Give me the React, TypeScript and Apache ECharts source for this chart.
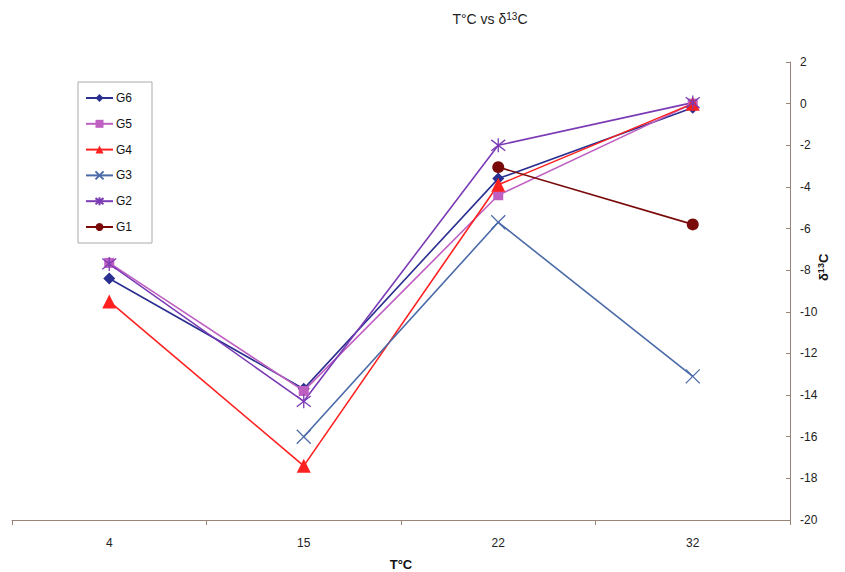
import React, { useEffect, useRef } from "react";
import * as echarts from "echarts";

const categories = ["4", "15", "22", "32"];
const g6 = [-8.4, -13.7, -3.6, -0.2];
const g5 = [-7.65, -13.8, -4.4, 0];
const g4 = [-9.5, -17.4, -3.9, 0];
const g3 = [null, -16.0, -5.7, -13.1];
const g2 = [-7.7, -14.3, -2.0, 0.05];
const g1 = [null, null, -3.05, -5.8];
const yTicks = { min: -20, max: 2, interval: 2 };

const FONT = "Arial, 'Liberation Sans', sans-serif";
const AXIS = "#9a8478";

export default function App() {
  const ref = useRef<HTMLDivElement>(null);
  useEffect(() => {
    document.body.style.margin = "0";
    const chart = echarts.init(ref.current!, null, { renderer: "svg" });
    const mk = (name: string, data: any[], color: string, symbol: string, size: number, stroke = false) => ({
      name,
      type: "line",
      data,
      symbol,
      symbolSize: size,
      connectNulls: false,
      lineStyle: { color, width: 1.6 },
      itemStyle: stroke
        ? { color: color, borderColor: color, borderWidth: 1.3 }
        : { color, borderWidth: 0 },
      emphasis: { disabled: true },
    });
    chart.setOption({
      animation: false,
      backgroundColor: "#fff",
      textStyle: { fontFamily: FONT },
      title: {
        text: "T°C vs δ{sup|13}C",
        left: 485,
        textAlign: "center",
        top: 6,
        textStyle: {
          fontSize: 14,
          fontWeight: "normal",
          color: "#222",
          fontFamily: FONT,
          rich: { sup: { fontSize: 10, verticalAlign: "top", color: "#222", fontFamily: FONT, padding: [0, 0, 6, 0] } },
        },
      },
      legend: {
        orient: "vertical",
        left: 78,
        top: 82,
        padding: [10, 20, 10, 7],
        itemGap: 13.8,
        itemWidth: 27,
        itemHeight: 10,
        borderColor: "#aaa",
        borderWidth: 1,
        textStyle: { fontSize: 12, color: "#111", fontFamily: FONT, padding: [0, 0, 0, -2] },
        data: ["G6", "G5", "G4", "G3", "G2", "G1"],
      },
      grid: { left: 12, right: 55, top: 62, bottom: 52, outerBoundsMode: "none", containLabel: false },
      xAxis: {
        type: "category",
        data: categories,
        boundaryGap: true,
        name: "T°C",
        nameLocation: "middle",
        nameGap: 38,
        nameTextStyle: { fontSize: 13, fontWeight: "bold", color: "#111", fontFamily: FONT },
        axisLine: { onZero: false, lineStyle: { color: AXIS, width: 1 } },
        axisTick: { show: true, length: 5, lineStyle: { color: AXIS } },
        axisLabel: { fontSize: 12, color: "#222", margin: 17, fontFamily: FONT },
        splitLine: { show: false },
      },
      yAxis: {
        type: "value",
        position: "right",
        min: yTicks.min,
        max: yTicks.max,
        interval: yTicks.interval,
        axisLine: { show: true, lineStyle: { color: AXIS, width: 1 } },
        axisTick: { show: true, inside: true, length: 4, lineStyle: { color: AXIS } },
        axisLabel: { fontSize: 12, color: "#222", margin: 10, fontFamily: FONT },
        splitLine: { show: false },
      },
      graphic: [
        {
          type: "text",
          x: 816,
          y: 281,
          rotation: Math.PI / 2,
          style: {
            text: "δ{sup|13}C",
            font: `bold 13px ${FONT}`,
            fill: "#111",
            rich: { sup: { fontSize: 9, fontWeight: "bold", verticalAlign: "top", fill: "#111", padding: [0, 0, 6, 0] } },
          },
        },
      ],
      series: [
        mk("G6", g6, "#2b2f8f", "diamond", 12),
        mk("G5", g5, "#bf5fc2", "rect", 10),
        mk("G4", g4, "#ff2020", "triangle", 14),
        mk("G3", g3, "#4a6aa8", "path://M0,0L10,10M10,0L0,10", 14, true),
        mk("G2", g2, "#7a3bb5", "path://M0,0L10,10M10,0L0,10M5,-1.5L5,11.5", 14, true),
        mk("G1", g1, "#7a0a0a", "circle", 12),
      ],
    });
    return () => chart.dispose();
  }, []);
  return <div ref={ref} style={{ width: 845, height: 572 }} />;
}
